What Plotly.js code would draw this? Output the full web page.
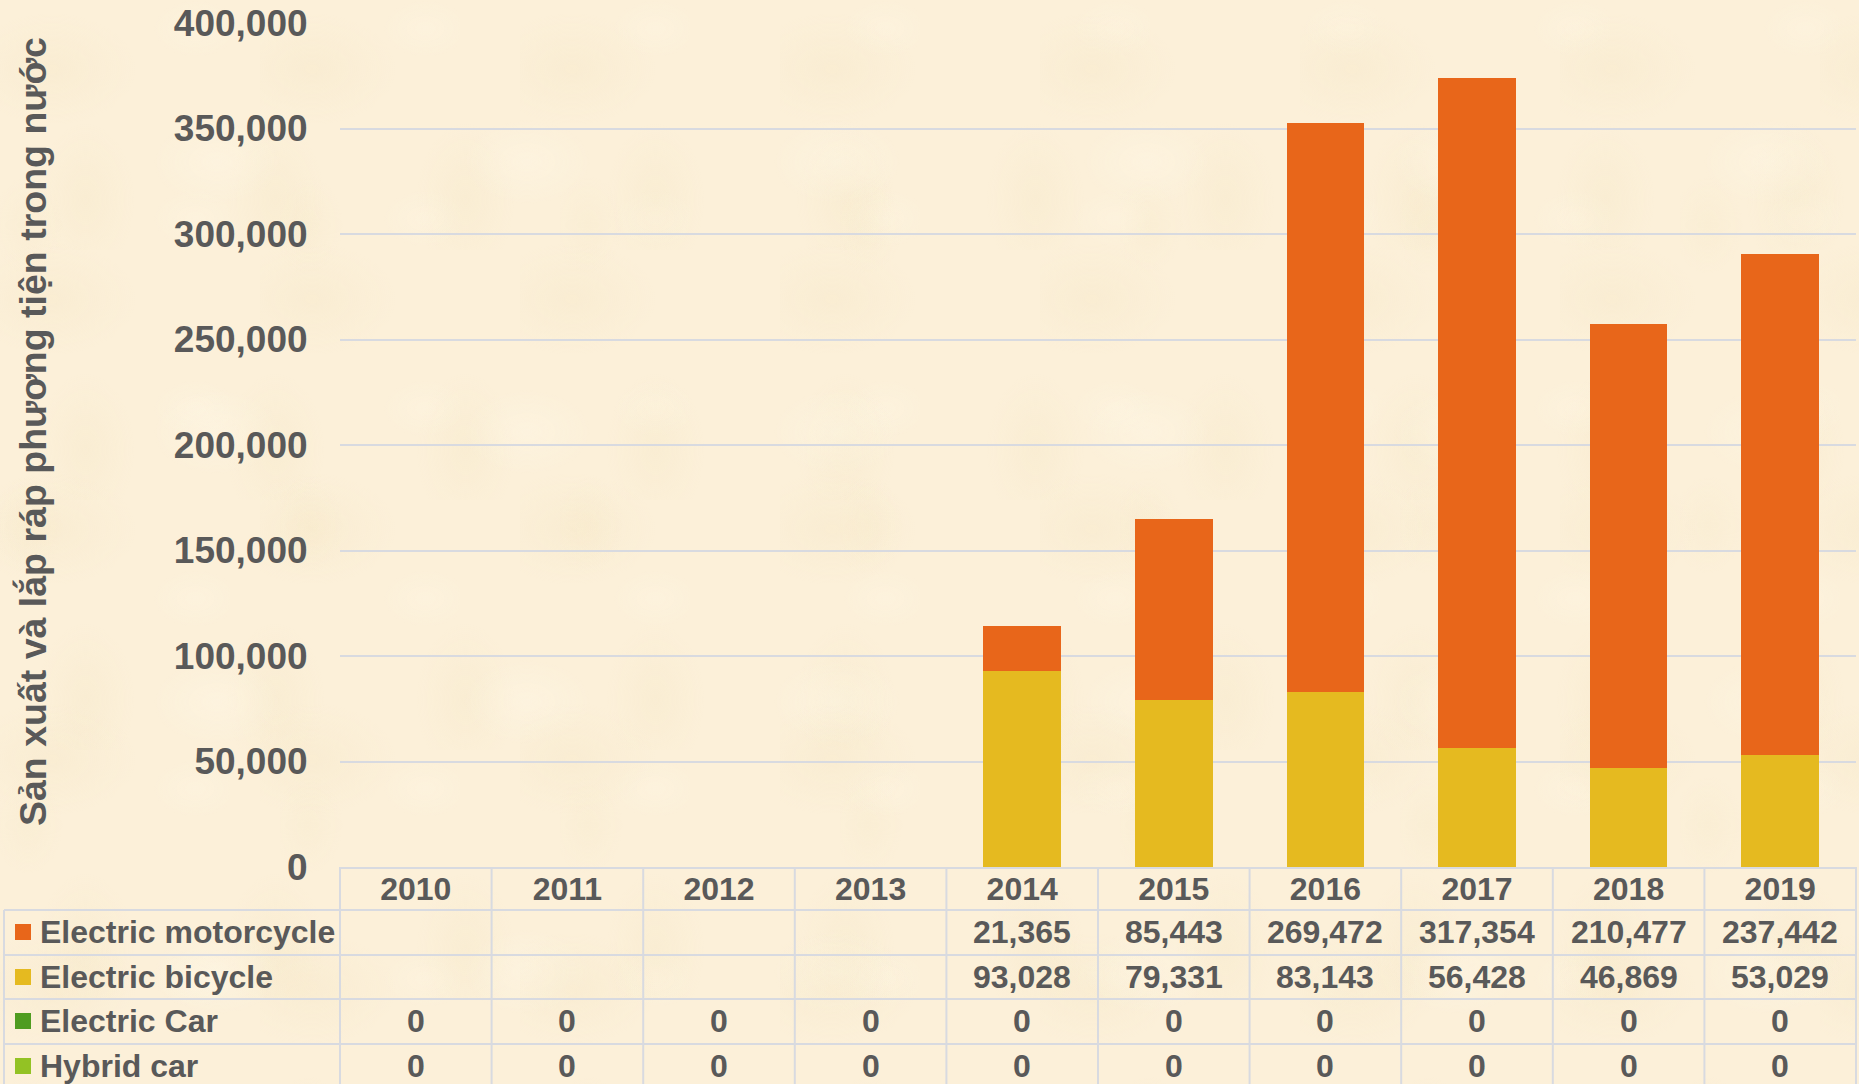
<!DOCTYPE html>
<html>
<head>
<meta charset="utf-8">
<script src="https://cdn.plot.ly/plotly-3.0.1.min.js"></script>
<style>
  html, body { margin: 0; padding: 0; width: 1859px; height: 1084px; overflow: hidden; }
  body {
    background-color: #FCF0D9;
    background-image:
      radial-gradient(ellipse 120px 80px at 20% 30%, rgba(240,222,180,0.18), rgba(240,222,180,0) 70%),
      radial-gradient(ellipse 90px 60px at 70% 60%, rgba(255,250,235,0.3), rgba(255,250,235,0) 70%),
      radial-gradient(ellipse 70px 110px at 45% 80%, rgba(238,220,175,0.15), rgba(238,220,175,0) 70%),
      radial-gradient(ellipse 60px 40px at 85% 15%, rgba(255,248,230,0.3), rgba(255,248,230,0) 70%),
      radial-gradient(ellipse 50px 70px at 10% 75%, rgba(242,226,185,0.15), rgba(242,226,185,0) 70%);
    background-size: 260px 230px, 310px 270px, 190px 250px, 230px 190px, 280px 300px;
  }
  #chart { width: 1859px; height: 1084px; }
</style>
</head>
<body>
<div id="chart"></div>
<script>
// ---- Data ----
const years = ['2010', '2011', '2012', '2013', '2014', '2015', '2016', '2017', '2018', '2019'];
const electricMotorcycle = [null, null, null, null, 21365, 85443, 269472, 317354, 210477, 237442];
const electricBicycle = [null, null, null, null, 93028, 79331, 83143, 56428, 46869, 53029];
const electricCar = [0, 0, 0, 0, 0, 0, 0, 0, 0, 0];
const hybridCar = [0, 0, 0, 0, 0, 0, 0, 0, 0, 0];
const seriesNames = ['Electric motorcycle', 'Electric bicycle', 'Electric Car', 'Hybrid car'];
const seriesValues = [electricMotorcycle, electricBicycle, electricCar, hybridCar];
const seriesColors = ['#E8661A', '#E5BA20', '#4F9C20', '#93C224'];
const yTitle = 'Sản xuất và lắp ráp phương tiện trong nước';

// ---- Layout geometry (pixels) ----
const W = 1859, H = 1084;
const mL = 340, mR = 3, mT = 23, mB = 217;
const plotW = W - mL - mR, plotH = H - mT - mB;
const plotBottom = H - mB;
const px = p => (p - mL) / plotW;          // pixel x -> paper x
const py = p => (plotBottom - p) / plotH;  // pixel y -> paper y

const textColor = '#595959';
const gridColor = '#D8DAE0';
const fontFam = '"Liberation Sans", Arial, sans-serif';

const rowBounds = [910, 955, 999, 1044];   // lines between table rows
const rowCenters = [932, 977, 1021, 1066];

// ---- Traces (stack: bicycle at bottom, motorcycle on top) ----
const order = [1, 0, 2, 3];
const traces = order.map(i => ({
  type: 'bar',
  name: seriesNames[i],
  x: years,
  y: seriesValues[i],
  marker: { color: seriesColors[i], line: { width: 0 } },
  hoverinfo: 'x+y+name'
}));

// ---- Table: shapes + annotations ----
const shapes = [];
const lineStyle = { color: gridColor, width: 2 };
rowBounds.forEach(b => {
  shapes.push({ type: 'line', xref: 'paper', yref: 'paper', x0: px(4), x1: 1, y0: py(b), y1: py(b), line: lineStyle, layer: 'above' });
});
shapes.push({ type: 'line', xref: 'paper', yref: 'paper', x0: px(4), x1: px(4), y0: py(910), y1: py(H + 10), line: lineStyle });
shapes.push({ type: 'line', xref: 'paper', yref: 'paper', x0: 0, x1: 0, y0: 0, y1: py(H + 10), line: lineStyle });
shapes.push({ type: 'line', xref: 'paper', yref: 'paper', x0: 1, x1: 1, y0: 0, y1: py(H + 10), line: lineStyle });
for (let i = 1; i < years.length; i++) {
  shapes.push({ type: 'line', xref: 'x', yref: 'paper', x0: i - 0.5, x1: i - 0.5, y0: 0, y1: py(H + 10), line: lineStyle });
}
seriesNames.forEach((n, r) => {
  shapes.push({ type: 'rect', xref: 'paper', yref: 'paper', x0: px(15), x1: px(31), y0: py(rowCenters[r] + 8), y1: py(rowCenters[r] - 8), fillcolor: seriesColors[r], line: { width: 0 } });
});

const annotations = [];
const cellFont = { family: fontFam, size: 32, color: textColor, weight: 700 };
seriesNames.forEach((n, r) => {
  annotations.push({ xref: 'paper', yref: 'paper', x: px(38), y: py(rowCenters[r]), xanchor: 'left', yanchor: 'middle', text: n, showarrow: false, font: cellFont });
  seriesValues[r].forEach((v, c) => {
    if (v === null) return;
    annotations.push({ xref: 'x', yref: 'paper', x: c, y: py(rowCenters[r]), xanchor: 'center', yanchor: 'middle', text: v.toLocaleString('en-US'), showarrow: false, font: cellFont });
  });
});
annotations.push({ xref: 'paper', yref: 'paper', x: px(33), y: py(432), xanchor: 'center', yanchor: 'middle', textangle: -90, text: yTitle, showarrow: false, font: { family: fontFam, size: 37.5, color: textColor, weight: 700 } });

const layout = {
  width: W, height: H,
  margin: { l: mL, r: mR, t: mT, b: mB, pad: 0 },
  paper_bgcolor: 'rgba(0,0,0,0)',
  plot_bgcolor: 'rgba(0,0,0,0)',
  barmode: 'stack',
  bargap: 0.488,
  showlegend: false,
  font: { family: fontFam, color: textColor },
  xaxis: {
    type: 'category',
    range: [-0.5, years.length - 0.5],
    showgrid: false, zeroline: false,
    showline: true, linecolor: gridColor, linewidth: 2,
    ticks: '', ticklabelstandoff: -7,
    tickfont: { family: fontFam, size: 32, color: textColor, weight: 700 },
    automargin: false, fixedrange: true
  },
  yaxis: {
    range: [0, 400000],
    dtick: 50000, tick0: 0,
    tickformat: ',d',
    showgrid: true, gridcolor: gridColor, gridwidth: 2,
    zeroline: false, showline: false,
    ticks: 'outside', ticklen: 24, tickcolor: 'rgba(0,0,0,0)',
    tickfont: { family: fontFam, size: 37, color: textColor, weight: 700 },
    automargin: false, fixedrange: true
  },
  shapes: shapes,
  annotations: annotations
};

Plotly.newPlot('chart', traces, layout, { displayModeBar: false, staticPlot: true });
</script>
</body>
</html>
